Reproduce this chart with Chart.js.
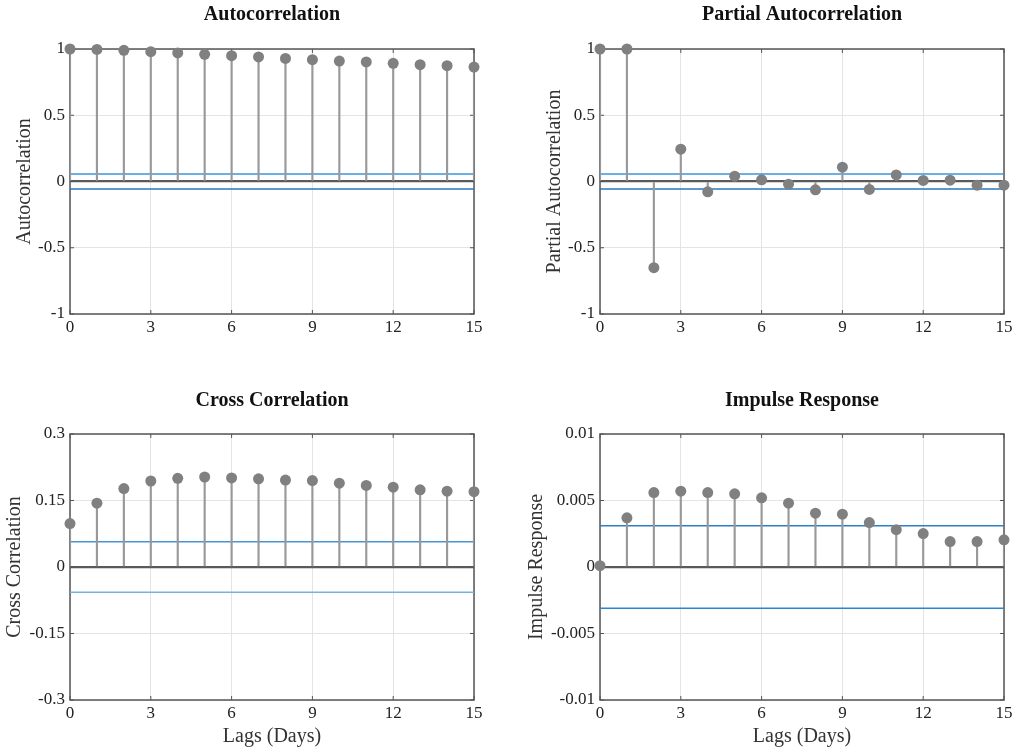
<!DOCTYPE html>
<html>
<head>
<meta charset="utf-8">
<script src="https://cdn.jsdelivr.net/npm/chart.js@4.4.1/dist/chart.umd.min.js"></script>
<style>
  html, body { margin: 0; padding: 0; background: #fff; }
  .panel { position: absolute; }
</style>
</head>
<body>
<div class="panel" style="left:0;top:0;width:510px;height:345px"><canvas id="acfChart"></canvas></div>
<div class="panel" style="left:510px;top:0;width:508px;height:345px"><canvas id="pacfChart"></canvas></div>
<div class="panel" style="left:0;top:380px;width:510px;height:372px"><canvas id="xcorrChart"></canvas></div>
<div class="panel" style="left:510px;top:380px;width:508px;height:372px"><canvas id="irfChart"></canvas></div>
<script>
// lags 0..15 (days)
const lags = [0, 1, 2, 3, 4, 5, 6, 7, 8, 9, 10, 11, 12, 13, 14, 15];

const acfValues = [1.0, 0.997, 0.99, 0.98, 0.97, 0.96, 0.95, 0.94, 0.929, 0.919, 0.909, 0.902, 0.892, 0.882, 0.874, 0.864];
const pacfValues = [1.0, 1.0, -0.65, 0.244, -0.078, 0.04, 0.013, -0.02, -0.063, 0.108, -0.06, 0.05, 0.008, 0.01, -0.028, -0.028];
const xcorrValues = [0.098, 0.144, 0.177, 0.194, 0.2, 0.203, 0.201, 0.199, 0.196, 0.195, 0.189, 0.184, 0.18, 0.174, 0.171, 0.17];
const irfValues = [0.0001, 0.0037, 0.0056, 0.0057, 0.0056, 0.0055, 0.0052, 0.0048, 0.00405, 0.00397, 0.00334, 0.00281, 0.00251, 0.00191, 0.00191, 0.00204];

// confidence bounds
const acfBound = 0.056;
const pacfBound = 0.056;
const xcorrBound = 0.057;
const irfBound = 0.0031;

const xTicks = [0, 3, 6, 9, 12, 15];
const acfTicks = [-1, -0.5, 0, 0.5, 1];
const xcorrTicks = [-0.3, -0.15, 0, 0.15, 0.3];
const irfTicks = [-0.01, -0.005, 0, 0.005, 0.01];

const serif = "'Liberation Serif', 'Times New Roman', serif";

// box around plot area with inward ticks (MATLAB style)
const boxPlugin = {
    id: "box",
    beforeDatasetsDraw(chart) {
        const { ctx, chartArea: a, scales } = chart;
        ctx.save();
        ctx.strokeStyle = "#555";
        ctx.lineWidth = 1.5;
        ctx.strokeRect(a.left, a.top, a.right - a.left, a.bottom - a.top);
        ctx.lineWidth = 1;
        ctx.beginPath();
        scales.y.ticks.forEach(t => {
            const y = scales.y.getPixelForValue(t.value);
            ctx.moveTo(a.left, y); ctx.lineTo(a.left + 4, y);
            ctx.moveTo(a.right, y); ctx.lineTo(a.right - 4, y);
        });
        scales.x.ticks.forEach(t => {
            const x = scales.x.getPixelForValue(t.value);
            ctx.moveTo(x, a.bottom); ctx.lineTo(x, a.bottom - 4);
            ctx.moveTo(x, a.top); ctx.lineTo(x, a.top + 4);
        });
        ctx.stroke();
        ctx.restore();
    },
};

function createStemChart(opts) {
    const ctx = document.getElementById(opts.id).getContext("2d");
    const points = lags.map((x, i) => ({ x: x, y: opts.values[i] }));
    return new Chart(ctx, {
        type: "scatter",
        data: {
            datasets: [
                {
                    type: "scatter",
                    data: points,
                    pointRadius: 5.5,
                    pointBackgroundColor: "#808080",
                    pointBorderWidth: 0,
                    clip: false,
                    order: 0,
                },
                {
                    type: "line",
                    data: lags.map(x => ({ x: x, y: opts.bound })),
                    borderColor: opts.upperColor,
                    borderWidth: 1.5,
                    pointRadius: 0,
                    order: 2,
                },
                {
                    type: "line",
                    data: lags.map(x => ({ x: x, y: -opts.bound })),
                    borderColor: opts.lowerColor,
                    borderWidth: 1.5,
                    pointRadius: 0,
                    order: 2,
                },
                {
                    type: "bar",
                    data: points,
                    backgroundColor: "#999",
                    barThickness: 1.5,
                    order: 1,
                },
            ],
        },
        options: {
            responsive: true,
            maintainAspectRatio: false,
            animation: false,
            layout: { padding: { left: opts.padLeft, right: opts.padRight, top: 0, bottom: 0 } },
            scales: {
                x: {
                    type: "linear",
                    min: 0,
                    max: 15,
                    offset: false,
                    afterBuildTicks: s => { s.ticks = xTicks.map(v => ({ value: v })); },
                    afterFit: s => {
                        s.height = opts.xHeight;
                        s.paddingLeft = 0; s.paddingRight = 0;
                    },
                    grid: { color: "#e4e4e4", lineWidth: 1, drawTicks: false, offset: false },
                    border: { display: false },
                    ticks: { color: "#222", font: { family: serif, size: 17 }, padding: 3, maxRotation: 0, autoSkip: false },
                    title: {
                        display: opts.showXTitle,
                        text: "Lags (Days)",
                        color: "#333",
                        font: { family: serif, size: 20 },
                        padding: { top: 0, bottom: 3 },
                    },
                },
                y: {
                    type: "linear",
                    min: opts.ticks[0],
                    max: opts.ticks[opts.ticks.length - 1],
                    afterBuildTicks: s => { s.ticks = opts.ticks.map(v => ({ value: v })); },
                    afterFit: s => {
                        s.width = opts.yWidth;
                        s.paddingTop = 0; s.paddingBottom = 0;
                    },
                    grid: {
                        color: c => (c.tick && c.tick.value === 0 ? "#5a5a5a" : "#e4e4e4"),
                        lineWidth: c => (c.tick && c.tick.value === 0 ? 2.2 : 1),
                        drawTicks: false,
                    },
                    border: { display: false },
                    ticks: {
                        color: "#222",
                        font: { family: serif, size: 17 },
                        padding: 5,
                        autoSkip: false,
                        callback: v => String(v),
                    },
                    title: {
                        display: true,
                        text: opts.yTitle,
                        color: "#333",
                        font: { family: serif, size: 20 },
                        padding: { top: opts.yTitlePad, bottom: 0 },
                    },
                },
            },
            plugins: {
                legend: { display: false },
                tooltip: { enabled: false },
                title: {
                    display: true,
                    text: opts.title,
                    fullSize: false,
                    color: "#111",
                    font: { family: serif, size: 20, weight: "bold" },
                    padding: { top: opts.titleTop, bottom: opts.titleBottom },
                },
            },
        },
        plugins: [boxPlugin],
    });
}

createStemChart({
    id: "acfChart", title: "Autocorrelation", yTitle: "Autocorrelation",
    values: acfValues, bound: acfBound, ticks: acfTicks,
    upperColor: "#3b95dc", lowerColor: "#2a76bd",
    padLeft: 0, padRight: 36, yWidth: 70, yTitlePad: 13, xHeight: 31,
    titleTop: 3, titleBottom: 22, showXTitle: false,
});

createStemChart({
    id: "pacfChart", title: "Partial Autocorrelation", yTitle: "Partial Autocorrelation",
    values: pacfValues, bound: pacfBound, ticks: acfTicks,
    upperColor: "#3b95dc", lowerColor: "#2a76bd",
    padLeft: 0, padRight: 14, yWidth: 90, yTitlePad: 33, xHeight: 31,
    titleTop: 3, titleBottom: 22, showXTitle: false,
});

createStemChart({
    id: "xcorrChart", title: "Cross Correlation", yTitle: "Cross Correlation",
    values: xcorrValues, bound: xcorrBound, ticks: xcorrTicks,
    upperColor: "#4a94d0", lowerColor: "#76b2de",
    padLeft: 0, padRight: 36, yWidth: 70, yTitlePad: 3, xHeight: 52,
    titleTop: 9, titleBottom: 21, showXTitle: true,
});

createStemChart({
    id: "irfChart", title: "Impulse Response", yTitle: "Impulse Response",
    values: irfValues, bound: irfBound, ticks: irfTicks,
    upperColor: "#2f7fc4", lowerColor: "#2a86d2",
    padLeft: 0, padRight: 14, yWidth: 90, yTitlePad: 15, xHeight: 52,
    titleTop: 9, titleBottom: 21, showXTitle: true,
});
</script>
</body>
</html>
